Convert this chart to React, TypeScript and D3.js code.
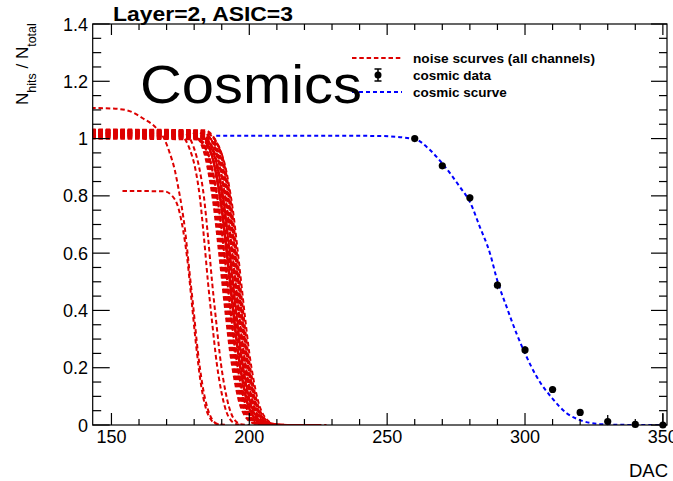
import React from "react";
import * as d3 from "d3";

const W = 673;
const H = 481;

// Axis ranges and ticks
const xDomain: [number, number] = [143.2, 351.5];
const yDomain: [number, number] = [0, 1.4];
const xMajorTicks = [150, 200, 250, 300, 350];
const xTickLabels = ["150", "200", "250", "300", "350"];
const yMajorTicks = [0, 0.2, 0.4, 0.6, 0.8, 1, 1.2, 1.4];
const yTickLabels = ["0", "0.2", "0.4", "0.6", "0.8", "1", "1.2", "1.4"];

// Cosmic data points
const cosmicDac = [260, 270, 280, 290, 300, 310, 320, 330, 340, 350];
const cosmicFrac = [1.0, 0.905, 0.793, 0.488, 0.262, 0.124, 0.044, 0.012, 0.002, 0.0];
const cosmicErr = [0.008, 0.01, 0.012, 0.014, 0.013, 0.01, 0.008, 0.023, 0.008, 0.04];

// Cosmic s-curve
const scurveDac = [188, 230, 247.4, 260.1, 265, 270, 276.4, 280, 283.6, 287.3, 289.9, 293.3, 296.9, 300, 304.2, 309.9, 315.1, 320, 327.2, 335, 352];
const scurveFrac = [1.01, 1.01, 1.009, 0.998, 0.965, 0.913, 0.831, 0.779, 0.692, 0.599, 0.506, 0.413, 0.32, 0.25, 0.169, 0.093, 0.041, 0.017, 0.003, 0.0005, 0];

// Noise s-curves: outlier channels (read directly)
const noiseLow: [number, number][] = [[154, 0.817], [169, 0.816], [172, 0.8], [174.2, 0.76], [176, 0.68], [177.5, 0.58], [179, 0.44], [180.8, 0.27], [182.5, 0.14], [184.2, 0.06], [186, 0.02], [188, 0.004], [191, 0]];
const noiseHigh: [number, number][] = [[140, 1.107], [150, 1.105], [155.5, 1.099], [161.5, 1.07], [166.4, 1.035], [169.4, 0.994], [171.2, 0.948], [173, 0.889], [174.2, 0.831], [175.5, 0.761], [176.7, 0.68], [177.5, 0.61], [178.5, 0.517], [179.6, 0.42], [181.3, 0.26], [183, 0.14], [184.8, 0.06], [186.5, 0.02], [188.5, 0.004], [192, 0]];
const noiseEarlyA: [number, number][] = [[140, 1.015], [175, 1.01], [178.5, 0.96], [180.3, 0.9], [182, 0.8], [183.5, 0.66], [185, 0.5], [186.5, 0.36], [188.2, 0.215], [190, 0.11], [192.4, 0.03], [195.4, 0.003], [198, 0]];
const noiseEarlyB: [number, number][] = [[140, 1.022], [176.5, 1.017], [180, 0.965], [181.8, 0.9], [183.5, 0.8], [185, 0.66], [186.5, 0.5], [188, 0.36], [189.7, 0.215], [191.5, 0.11], [193.9, 0.03], [196.9, 0.003], [200, 0]];

// Noise s-curves: main band (per channel: 50% point, plateau, last DAC)
const bandMid = [190.0, 190.5, 191.0, 191.5, 192.0, 192.0, 192.5, 193.0, 193.0, 193.5, 194.0, 194.0, 194.5, 195.0, 195.0, 195.5, 196.0, 196.0, 196.5, 197.0, 193.8, 191.8, 195.8, 193.3, 192.8, 194.6];
const bandPlateau = [1.03, 1.025, 1.02, 1.015, 1.01, 1.005, 1.03, 1.02, 1.012, 1.025, 1.008, 1.018, 1.03, 1.003, 1.022, 1.015, 1.028, 1.01, 1.02, 1.005, 1.025, 1.012, 1.032, 1.0, 1.017, 1.027];
const bandEnd = [206, 208, 212, 210, 215, 207, 218, 214, 220, 211, 216, 222, 213, 219, 224, 217, 228, 221, 226, 223, 209, 213, 225, 212, 216, 220];
// common transition shape of the band (DAC offset from 50% point, fraction of plateau)
const shapeOffset = [-12, -9, -6, -4.5, -3, -1.5, 0, 1.5, 3, 4.5, 6, 9, 12, 15];
const shapeFrac = [0.997, 0.977, 0.91, 0.84, 0.75, 0.63, 0.5, 0.37, 0.25, 0.16, 0.09, 0.023, 0.004, 0.0005];

const RED = "#dd0000";
const BLUE = "#0000ff";
const FONT = "'Liberation Sans', Arial, Helvetica, sans-serif";

export default function App() {
  const frame = { left: 92.7, right: 667, top: 24, bottom: 425 };
  const x = d3.scaleLinear().domain(xDomain).range([frame.left, frame.right]);
  const y = d3.scaleLinear().domain(yDomain).range([frame.bottom, frame.top]);
  const line = d3
    .line<[number, number]>()
    .x((d) => x(d[0]))
    .y((d) => y(d[1]))
    .curve(d3.curveMonotoneX);

  const bandCurves: [number, number][][] = bandMid.map((m, i) => {
    const P = bandPlateau[i];
    const end = bandEnd[i];
    const pts: [number, number][] = [[140, P]];
    shapeOffset.forEach((dx, k) => {
      if (m + dx < end - 0.5) pts.push([m + dx, P * shapeFrac[k]]);
    });
    pts.push([end, 0]);
    return pts;
  });
  const noiseCurves = [noiseLow, noiseHigh, noiseEarlyA, noiseEarlyB, ...bandCurves];
  const scurve: [number, number][] = scurveDac.map((d, i) => [d, scurveFrac[i]]);

  const xMinor = d3.range(150, 351, 10).filter((v) => !xMajorTicks.includes(v));
  const yMinor = d3.range(0, 1.401, 0.05).filter((v) => Math.abs(v * 5 - Math.round(v * 5)) > 1e-6);

  return (
    <svg width={W} height={H} style={{ position: "absolute", left: 0, top: 0, background: "#fff" }} fontFamily={FONT}>
      <defs>
        <clipPath id="plotClip">
          <rect x={frame.left} y={frame.top - 5} width={frame.right - frame.left} height={frame.bottom - frame.top + 5} />
        </clipPath>
      </defs>
      <rect x={0} y={0} width={W} height={H} fill="#fff" />

      {/* Legend */}
      <g>
        <line x1={352} x2={402} y1={58} y2={58} stroke={RED} strokeWidth={2} strokeDasharray="4.5,2.8" />
        <text x={413} y={62.5} fontSize={13.5} fontWeight="bold" textLength={182} lengthAdjust="spacingAndGlyphs">noise scurves (all channels)</text>
        <line x1={378} x2={378} y1={69} y2={81} stroke="#000" strokeWidth={1.5} />
        <line x1={374.5} x2={381.5} y1={69} y2={69} stroke="#000" strokeWidth={1.5} />
        <line x1={374.5} x2={381.5} y1={81} y2={81} stroke="#000" strokeWidth={1.5} />
        <circle cx={378} cy={75} r={3.5} fill="#000" />
        <text x={413} y={79.5} fontSize={13.5} fontWeight="bold">cosmic data</text>
        <line x1={352} x2={402} y1={92} y2={92} stroke={BLUE} strokeWidth={2} strokeDasharray="4,3" />
        <text x={413} y={96.5} fontSize={13.5} fontWeight="bold">cosmic scurve</text>
      </g>

      {/* Curves */}
      <g clipPath="url(#plotClip)" fill="none">
        {noiseCurves.map((c, i) => (
          <path key={i} d={line(c) || ""} stroke={RED} strokeWidth={2} strokeDasharray="4.5,2.8" />
        ))}
        <path d={line(scurve) || ""} stroke={BLUE} strokeWidth={2} strokeDasharray="4,3" />
      </g>

      {/* Data points */}
      <g>
        {cosmicDac.map((d, i) => (
          <g key={i}>
            <line x1={x(d)} x2={x(d)} y1={y(Math.max(0, cosmicFrac[i] - cosmicErr[i]))} y2={y(cosmicFrac[i] + cosmicErr[i])} stroke="#000" strokeWidth={1.3} />
            <circle cx={x(d)} cy={y(cosmicFrac[i])} r={3.6} fill="#000" />
          </g>
        ))}
      </g>

      {/* Frame */}
      <rect x={frame.left} y={frame.top} width={frame.right - frame.left} height={frame.bottom - frame.top} fill="none" stroke="#000" strokeWidth={1.2} />

      {/* X ticks bottom and top */}
      <g stroke="#000" strokeWidth={1.2}>
        {xMajorTicks.map((t) => (
          <g key={"xM" + t}>
            <line x1={x(t)} x2={x(t)} y1={frame.bottom} y2={frame.bottom - 12} />
            <line x1={x(t)} x2={x(t)} y1={frame.top} y2={frame.top + 11} />
          </g>
        ))}
        {xMinor.map((t) => (
          <g key={"xm" + t}>
            <line x1={x(t)} x2={x(t)} y1={frame.bottom} y2={frame.bottom - 6} />
            <line x1={x(t)} x2={x(t)} y1={frame.top} y2={frame.top + 6} />
          </g>
        ))}
        {yMajorTicks.map((t) => (
          <g key={"yM" + t}>
            <line x1={frame.left} x2={frame.left + 17} y1={y(t)} y2={y(t)} />
            <line x1={frame.right} x2={frame.right - 16} y1={y(t)} y2={y(t)} />
          </g>
        ))}
        {yMinor.map((t) => (
          <g key={"ym" + t}>
            <line x1={frame.left} x2={frame.left + 8.5} y1={y(t)} y2={y(t)} />
            <line x1={frame.right} x2={frame.right - 8} y1={y(t)} y2={y(t)} />
          </g>
        ))}
      </g>

      {/* Tick labels */}
      <g fontSize={18} fill="#000">
        {xMajorTicks.map((t, i) => (
          <text key={"xl" + t} x={x(t)} y={443} textAnchor="middle">{xTickLabels[i]}</text>
        ))}
        {yMajorTicks.map((t, i) => (
          <text key={"yl" + t} x={88} y={y(t) + 6.5} textAnchor="end">{yTickLabels[i]}</text>
        ))}
      </g>

      {/* Axis titles */}
      <text x={668} y={477} fontSize={18.5} textAnchor="end">DAC</text>
      <text transform="translate(28,105) rotate(-90)" fontSize={17}>
        <tspan>N</tspan>
        <tspan dy={8} fontSize={12.5}>hits</tspan>
        <tspan dy={-8}> / N</tspan>
        <tspan dy={8} fontSize={12.5}>total</tspan>
      </text>

      {/* Title */}
      <text x={113} y={21} fontSize={21} fontWeight="bold" textLength={180} lengthAdjust="spacingAndGlyphs">Layer=2, ASIC=3</text>

      {/* Big annotation */}
      <text x={140} y={103} fontSize={54} textLength={222} lengthAdjust="spacingAndGlyphs">Cosmics</text>
    </svg>
  );
}
